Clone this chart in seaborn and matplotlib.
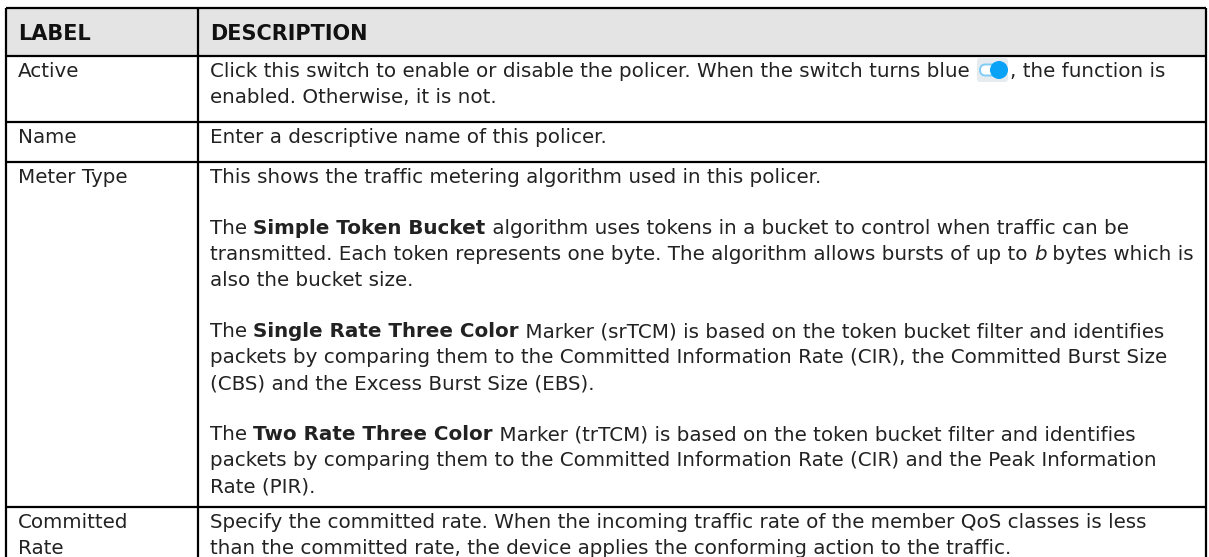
import matplotlib
matplotlib.use("Agg")
import matplotlib.pyplot as plt
from matplotlib.patches import FancyBboxPatch, Circle, Rectangle
import seaborn as sns

W, H = 1209, 557

# ---------------- content ----------------
header = ["LABEL", "DESCRIPTION"]
labels = [["Active"], ["Name"], ["Meter Type"], ["Committed", "Rate"]]

desc_active = [[
    [("Click this switch to enable or disable the policer. When the switch turns blue ", "n"),
     ("", "icon"), (", the function is", "n")],
    [("enabled. Otherwise, it is not.", "n")],
]]
desc_name = [[
    [("Enter a descriptive name of this policer.", "n")],
]]
desc_meter = [
    [[("This shows the traffic metering algorithm used in this policer.", "n")]],
    [[("The ", "n"), ("Simple Token Bucket", "b"),
      (" algorithm uses tokens in a bucket to control when traffic can be", "n")],
     [("transmitted. Each token represents one byte. The algorithm allows bursts of up to ", "n"),
      ("b", "i"), (" bytes which is", "n")],
     [("also the bucket size.", "n")]],
    [[("The ", "n"), ("Single Rate Three Color", "b"),
      (" Marker (srTCM) is based on the token bucket filter and identifies", "n")],
     [("packets by comparing them to the Committed Information Rate (CIR), the Committed Burst Size", "n")],
     [("(CBS) and the Excess Burst Size (EBS).", "n")]],
    [[("The ", "n"), ("Two Rate Three Color", "b"),
      (" Marker (trTCM) is based on the token bucket filter and identifies", "n")],
     [("packets by comparing them to the Committed Information Rate (CIR) and the Peak Information", "n")],
     [("Rate (PIR).", "n")]],
]
desc_committed = [[
    [("Specify the committed rate. When the incoming traffic rate of the member QoS classes is less", "n")],
    [("than the committed rate, the device applies the conforming action to the traffic.", "n")],
]]
descriptions = [desc_active, desc_name, desc_meter, desc_committed]

# ---------------- layout ----------------
col_x = [6, 198, 1206]
row_y = [8, 56, 122, 162, 507, H + 5]
pitch = 26
para_gap = 25
first_off = 14
pad_x = 12
text_color = "#222222"
header_bg = "#e4e4e4"

sns.set_theme(style="white")
plt.rcParams["font.family"] = ["DejaVu Sans"]

fig = plt.figure(figsize=(W / 100, H / 100), dpi=100)
ax = fig.add_axes([0, 0, 1, 1])
ax.set_xlim(0, W)
ax.set_ylim(H, 0)
ax.axis("off")
renderer = fig.canvas.get_renderer()


def style_kw(st, fs):
    kw = dict(fontsize=fs, color=text_color)
    if st == "b":
        kw["fontweight"] = "bold"
    if st == "i":
        kw["fontstyle"] = "italic"
    return kw


def raw_width(s, st, fs):
    t = ax.text(0, 0, s, **style_kw(st, fs))
    w = t.get_window_extent(renderer).width
    t.remove()
    return w


def width(s, st, fs):
    return raw_width("x" + s + "x", st, fs) - raw_width("xx", st, fs)


icon_w = 34


def line_width(runs, fs):
    return sum(icon_w if st == "icon" else width(s, st, fs) for s, st in runs)


# fit the font so the widest description line ends just inside the right border
widest = max(line_width(line, 10) for d in descriptions for para in d for line in para)
fs = 10 * 982 / widest


def draw_icon(x0, yc):
    bg = FancyBboxPatch((x0 + 1, yc - 12), icon_w - 3, 24,
                        boxstyle="round,pad=0,rounding_size=3",
                        facecolor="#e6ebef", edgecolor="none")
    ax.add_patch(bg)
    track = FancyBboxPatch((x0 + 4, yc - 5.5), 20, 11,
                           boxstyle="round,pad=0,rounding_size=5.5",
                           facecolor="#ffffff", edgecolor="#7fcdf7", linewidth=1.4)
    ax.add_patch(track)
    ax.add_patch(Circle((x0 + 23, yc), 9, facecolor="#0aa2f7", edgecolor="none"))


def draw_line(x, yc, runs):
    base = yc + 0.36 * fs * 100 / 72
    for s, st in runs:
        if st == "icon":
            draw_icon(x, yc)
            x += icon_w
            continue
        ax.text(x, base, s, va="baseline", ha="left", **style_kw(st, fs))
        x += width(s, st, fs)


# header background
ax.add_patch(Rectangle((col_x[0], row_y[0]), col_x[2] - col_x[0], row_y[1] - row_y[0],
                       facecolor=header_bg, edgecolor="none", zorder=0))

# header text
hc = (row_y[0] + row_y[1]) / 2
hfs = fs * 1.05
for i, h in enumerate(header):
    ax.text(col_x[i] + pad_x, hc + 0.37 * hfs * 100 / 72, h, va="baseline", ha="left",
            fontsize=hfs, fontweight="bold", color="#111111")

# body rows
for r, (lab, desc) in enumerate(zip(labels, descriptions)):
    top = row_y[r + 1]
    y = top + first_off
    for j, l in enumerate(lab):
        draw_line(col_x[0] + pad_x, y + j * pitch, [(l, "n")])
    for p, para in enumerate(desc):
        if p > 0:
            y += para_gap
        for line in para:
            draw_line(col_x[1] + pad_x, y, line)
            y += pitch

# grid lines
lw = 1.6
ax.hlines(row_y[:-1], col_x[0], col_x[2], colors="black", linewidth=lw)
ax.vlines(col_x, row_y[0], H, colors="black", linewidth=lw)

fig.savefig("out.png", dpi=100, facecolor="white")
